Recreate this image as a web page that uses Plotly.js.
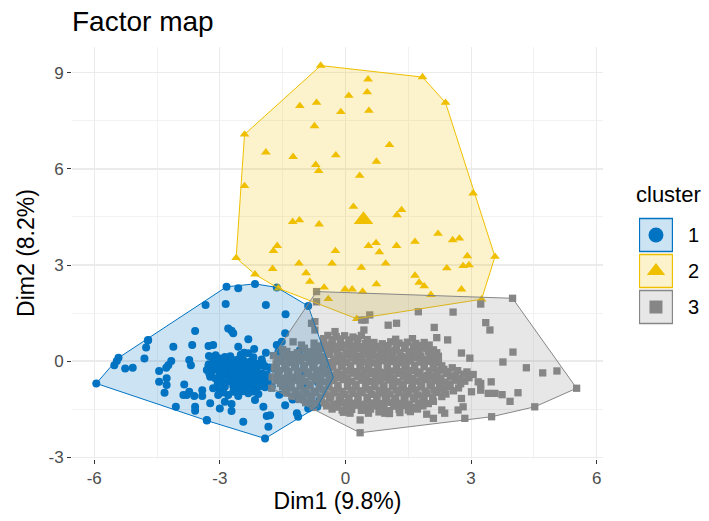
<!DOCTYPE html>
<html><head><meta charset="utf-8">
<script src="https://cdn.plot.ly/plotly-3.0.1.min.js"></script>
<style>html,body{margin:0;padding:0;background:#fff}#chart{width:709px;height:521px}</style>
</head><body><div id="chart"></div>
<script>
const chartTitle = 'Factor map';
const xTitle = 'Dim1 (9.8%)';
const yTitle = 'Dim2 (8.2%)';
const legendTitle = 'cluster';
const clusterLabels = ['1', '2', '3'];
const clusterColors = ['#0073C2', '#EFC000', '#868686'];
const clusterFills = ['rgba(0,115,194,0.2)', 'rgba(239,192,0,0.2)', 'rgba(134,134,134,0.2)'];
const clusterSymbols = ['circle', 'triangle-up', 'square'];
const xTickVals = [-6, -3, 0, 3, 6];
const yTickVals = [-3, 0, 3, 6, 9];

const cluster1Points = [
[-5.95,-0.70],[-3.34,1.75],[-3.59,0.94],[-4.72,0.64],[-4.76,0.42],[-4.11,0.45],[-3.66,0.50],[-5.42,0.10],[-5.46,0.00],[-5.52,-0.13],
[-5.26,-0.23],[-5.08,-0.21],[-4.80,0.08],[-4.16,0.00],[-4.23,-0.13],[-4.28,-0.21],[-3.73,0.03],[-3.69,-0.13],[-4.45,-0.31],[-4.27,-0.54],
[-4.45,-0.65],[-4.27,-0.75],[-4.32,-0.99],[-3.85,-0.73],[-3.87,-1.06],[-3.79,-1.06],[-3.73,-0.96],[-3.61,-1.09],[-3.42,-1.09],[-3.42,-0.91],
[-4.05,-1.43],[-3.59,-1.43],[-3.59,-1.55],[-3.31,-1.86],[-3.26,0.16],[-3.26,-0.10],[-3.26,-0.23],[-4.71,0.66],
[-2.84,2.32],[-2.56,2.27],[-2.16,2.41],[-1.64,2.30],[-2.86,1.78],[-1.90,1.75],[-0.89,1.72],[-1.43,1.46],[-2.80,1.02],[-2.68,0.87],
[-2.72,0.95],[-2.32,0.68],[-3.16,0.50],[-3.27,0.47],[-1.44,0.87],[-1.52,0.60],[-1.64,0.50],[-1.60,0.29],[-1.90,0.26],[-2.18,0.38],
[-2.56,0.45],[-3.19,0.13],[-3.00,0.08],[-2.88,0.13],[-2.32,0.24],[-2.42,0.26],
[-3.27,-0.13],[-3.16,-0.07],[-3.04,-0.02],[-2.92,-0.07],[-2.80,-0.02],[-2.68,0.03],[-2.56,0.05],[-2.44,0.03],[-2.28,-0.02],[-2.16,-0.07],
[-2.04,-0.13],[-1.92,-0.16],[-1.80,-0.20],
[-3.31,-0.28],[-3.19,-0.33],[-3.07,-0.26],[-2.95,-0.30],[-2.84,-0.23],[-2.72,-0.20],[-2.60,-0.23],[-2.48,-0.20],[-2.36,-0.26],[-2.24,-0.28],
[-2.12,-0.33],[-2.00,-0.38],[-1.88,-0.41],
[-3.23,-0.49],[-3.11,-0.54],[-2.95,-0.49],[-2.80,-0.44],[-2.64,-0.47],[-2.52,-0.49],[-2.40,-0.54],[-2.24,-0.59],[-2.08,-0.57],[-1.96,-0.59],
[-1.84,-0.65],
[-3.16,-0.85],[-3.00,-0.91],[-2.88,-0.80],[-2.68,-0.78],[-2.56,-0.85],[-2.40,-0.80],[-2.24,-0.82],[-2.12,-0.85],[-2.00,-0.78],
[-3.04,-1.06],[-2.80,-1.06],[-2.56,-1.09],[-2.32,-1.01],[-2.08,-1.03],
[-3.23,-1.32],[-2.88,-1.27],[-2.72,-1.34],[-2.16,-1.22],[-1.96,-1.43],
[-3.00,-1.48],[-2.72,-1.56],[-2.44,-1.90],[-1.88,-1.72],[-1.80,-1.69],[-1.84,-2.05],[-1.92,-2.42],[-1.44,-1.38],[-1.16,-1.63],[-1.13,-1.74],
[-0.89,-1.48],[-0.67,-1.43],[-3.31,-1.84],[-0.29,-0.51],[-1.49,-0.59],[-1.32,-0.75],[-0.97,-0.75],[-0.66,-0.66],[-0.61,-1.20],[-1.09,0.34],
[-1.20,-0.13],[-1.72,-0.23],[-1.76,-0.80],[-1.58,-1.05],[-1.26,-1.20],[-0.80,0.20],[-0.50,-0.20],[-1.02,-0.35],
[-3.10,0.18],[-2.75,0.15],[-2.50,0.20],[-2.20,0.12],[-2.00,0.05],
[-3.10,-0.15],[-2.98,-0.12],[-2.86,-0.10],[-2.74,-0.13],[-2.62,-0.09],[-2.50,-0.12],[-2.38,-0.08],[-2.22,-0.13],[-2.10,-0.10],[-1.98,-0.06],
[-3.25,-0.40],[-3.00,-0.38],[-2.88,-0.36],[-2.70,-0.40],[-2.55,-0.35],[-2.42,-0.39],[-2.30,-0.42],[-2.18,-0.44],[-2.05,-0.48],
[-3.05,-0.70],[-2.90,-0.66],[-2.75,-0.64],[-2.62,-0.68],[-2.48,-0.70],[-2.32,-0.68],[-2.16,-0.72],[-1.92,-0.82],
[-2.92,-0.98],[-2.68,-0.96],[-2.45,-0.94],[-2.20,-0.95]
];

const cluster2Points = [
[-0.59,9.23],[1.84,8.87],[2.39,8.07],[0.54,8.80],[0.52,8.40],[0.08,8.29],[-0.69,8.07],[-1.09,7.97],[-0.11,7.78],[0.56,7.82],
[-0.74,7.34],[-2.41,7.08],[-1.90,6.52],[-1.25,6.38],[-0.23,6.43],[1.05,6.75],[0.74,6.23],[-0.71,6.13],[-0.64,5.94],[0.34,5.79],
[-2.41,5.47],[3.05,5.24],[0.19,4.82],[1.34,4.72],[1.23,4.56],[-1.26,4.35],[-1.10,4.40],[-0.63,4.27],[2.21,3.98],[2.56,3.78],
[2.72,3.83],[1.66,3.73],[1.22,3.60],[0.55,3.60],[0.73,3.69],[0.81,3.40],[-0.24,3.44],[-1.63,3.60],[-1.72,3.44],[-2.61,3.22],
[3.57,3.26],[2.91,3.28],[2.95,3.00],[2.81,2.97],[2.42,2.90],[-1.11,3.05],[-0.32,3.05],[0.96,3.05],[0.38,2.92],[-1.74,2.88],
[-2.16,2.71],[-0.94,2.75],[-0.85,2.48],[1.66,2.67],[1.76,2.45],[1.88,2.34],[0.74,2.40],[-0.51,2.30],[2.77,2.24],[-0.01,2.24],
[0.16,2.24],[0.41,2.17],[-1.60,2.27],[-0.41,1.94],[0.27,1.32],[3.25,1.93],[2.04,2.07]
];

const cluster3Points = [
[-0.69,2.17],[-0.69,1.85],[-0.73,1.23],[-0.81,1.18],[-0.73,0.97],[0.58,1.44],[0.47,1.28],[0.39,1.28],[0.44,0.97],[-0.25,0.92],
[1.74,1.54],[2.57,1.53],[3.23,1.78],[3.99,1.96],[3.35,1.20],[3.45,0.97],[2.12,1.05],[2.18,0.73],[2.44,0.66],[1.02,1.12],
[1.22,1.18],[2.77,0.25],[2.97,0.09],[4.00,0.28],[3.76,-0.03],[4.32,-0.21],[4.71,-0.37],[5.05,-0.31],[5.52,-0.85],[4.12,-0.99],
[3.93,-1.26],[4.52,-1.43],[3.49,-1.74],[2.85,-1.79],[3.48,-0.65],[3.41,-1.01],[3.57,-1.01],[3.74,-1.05],[3.23,-0.70],[3.23,-0.91],
[3.05,-0.42],[3.17,-0.65],[3.01,-0.96],[2.77,-1.17],[2.81,-1.43],[2.69,-1.53],[2.30,-1.53],[2.37,-1.63],[2.10,-1.79],[1.94,-1.66],
[0.11,-1.63],[0.35,-1.84],[0.35,-2.24],[0.94,-1.63],[-1.76,-0.85],[-0.77,-1.45],[-1.25,0.60],[-1.49,0.13],[-1.32,0.03],[-1.16,0.08],
[-0.42,0.80],[-0.22,0.76],[-0.02,0.79],[0.18,0.75],[0.38,0.80],
[-0.75,0.56],[-0.52,0.60],[-0.32,0.55],[-0.12,0.59],[0.08,0.57],[0.28,0.61],[0.48,0.55],[0.68,0.58],[0.88,0.54],[1.08,0.60],
[1.28,0.56],[1.48,0.59],[1.68,0.55],[1.88,0.58],
[-1.50,0.36],[-0.98,0.40],[-0.75,0.35],[-0.52,0.39],[-0.30,0.37],[-0.10,0.41],[0.12,0.36],[0.32,0.39],[0.55,0.35],[0.75,0.40],
[0.98,0.37],[1.20,0.34],[1.42,0.39],[1.65,0.36],[1.88,0.40],[2.10,0.35],
[-1.72,0.17],[-1.28,0.20],[-1.05,0.16],[-0.82,0.19],[-0.60,0.15],[-0.38,0.21],[-0.15,0.17],[0.05,0.19],[0.28,0.15],[0.48,0.20],
[0.70,0.16],[0.92,0.21],[1.12,0.18],[1.35,0.14],[1.58,0.19],[1.80,0.16],[2.02,0.20],[2.22,0.15],
[-1.55,-0.01],[-1.30,-0.04],[-1.08,0.00],[-0.85,-0.03],[-0.62,0.01],[-0.40,-0.05],[-0.18,-0.01],[0.02,-0.04],[0.25,0.00],[0.45,-0.03],
[0.68,-0.06],[0.90,0.01],[1.12,-0.02],[1.32,-0.05],[1.55,0.00],[1.78,-0.03],[2.00,-0.01],[2.22,-0.05],
[-1.70,-0.21],[-1.45,-0.24],[-1.22,-0.19],[-1.00,-0.23],[-0.78,-0.20],[-0.55,-0.25],[-0.32,-0.21],[-0.10,-0.18],[0.12,-0.23],[0.35,-0.20],
[0.55,-0.24],[0.78,-0.19],[1.00,-0.22],[1.22,-0.25],[1.45,-0.20],[1.65,-0.23],[1.88,-0.18],[2.10,-0.22],[2.35,-0.26],[2.55,-0.21],
[-1.62,-0.40],[-1.38,-0.44],[-1.15,-0.41],[-0.92,-0.39],[-0.70,-0.43],[-0.48,-0.40],[-0.25,-0.45],[-0.05,-0.41],[0.18,-0.38],[0.40,-0.43],
[0.62,-0.40],[0.85,-0.44],[1.05,-0.41],[1.28,-0.39],[1.50,-0.43],[1.72,-0.40],[1.95,-0.45],[2.18,-0.42],[2.40,-0.39],[2.62,-0.44],[2.82,-0.41],
[-1.65,-0.61],[-1.40,-0.64],[-1.18,-0.60],[-0.95,-0.63],[-0.72,-0.59],[-0.50,-0.65],[-0.28,-0.61],[-0.05,-0.58],[0.15,-0.63],[0.38,-0.60],
[0.60,-0.64],[0.82,-0.62],[1.05,-0.59],[1.25,-0.65],[1.48,-0.61],[1.70,-0.63],[1.92,-0.58],[2.15,-0.62],[2.38,-0.66],[2.62,-0.60],[2.85,-0.63],
[-1.50,-0.80],[-1.30,-0.84],[-1.08,-0.81],[-0.85,-0.78],[-0.62,-0.83],[-0.40,-0.80],[-0.18,-0.85],[0.05,-0.81],[0.25,-0.79],[0.48,-0.84],
[0.70,-0.80],[0.90,-0.83],[1.12,-0.79],[1.35,-0.82],[1.58,-0.86],[1.80,-0.81],[2.02,-0.78],[2.25,-0.83],[2.48,-0.80],[2.70,-0.84],
[-1.40,-1.00],[-1.15,-1.04],[-0.92,-1.01],[-0.70,-0.98],[-0.48,-1.03],[-0.25,-1.00],[-0.02,-1.05],[0.18,-1.01],[0.40,-0.99],[0.62,-1.04],
[0.85,-1.00],[1.05,-1.03],[1.28,-0.99],[1.50,-1.02],[1.72,-1.06],[1.95,-1.01],[2.18,-0.98],[2.40,-1.03],
[-1.10,-1.20],[-0.85,-1.24],[-0.60,-1.21],[-0.38,-1.18],[-0.15,-1.23],[0.08,-1.20],[0.30,-1.25],[0.52,-1.21],[0.75,-1.19],[0.98,-1.24],
[1.20,-1.20],[1.42,-1.23],[1.65,-1.19],[1.88,-1.22],[2.10,-1.26],
[-0.45,-1.40],[-0.20,-1.44],[0.02,-1.41],[0.25,-1.38],[0.48,-1.43],[0.70,-1.40],[0.92,-1.45],[1.15,-1.41],[1.38,-1.39],[1.60,-1.44],[1.85,-1.40],
[-0.05,-1.60],[0.55,-1.63],[0.80,-1.59],[1.05,-1.64],[1.30,-1.61],[1.55,-1.58],
[-0.52,0.70],[-0.32,0.67],[-0.12,0.69],[0.10,0.66],[0.30,0.70],[0.52,0.67],[1.20,0.68],[1.60,0.70],
[-1.05,0.50],[-0.62,0.47],[-0.42,0.49],[-0.22,0.46],[-0.02,0.50],[0.20,0.47],[0.40,0.45],[0.62,0.49],[0.82,0.46],[1.02,0.48],
[1.22,0.45],[1.42,0.49],[1.62,0.46],[1.82,0.48],[2.00,0.50],
[-1.40,0.30],[-1.15,0.26],[-0.90,0.29],[-0.65,0.27],[-0.42,0.30],[-0.20,0.26],[0.02,0.28],[0.22,0.30],[0.42,0.26],[0.65,0.29],
[0.85,0.27],[1.08,0.30],[1.30,0.26],[1.52,0.29],[1.75,0.27],[1.98,0.30],[2.18,0.26],
[-1.62,0.07],[-1.40,0.09],[-1.18,0.06],[-0.95,0.10],[-0.72,0.07],[-0.50,0.09],[-0.28,0.05],[-0.05,0.08],[0.15,0.10],[0.38,0.06],
[0.58,0.09],[0.80,0.07],[1.02,0.10],[1.22,0.06],[1.45,0.08],[1.68,0.10],[1.90,0.06],[2.12,0.08],
[-1.65,-0.10],[-1.42,-0.13],[-1.20,-0.11],[-0.98,-0.14],[-0.75,-0.10],[-0.52,-0.12],[-0.30,-0.15],[-0.08,-0.11],[0.12,-0.13],[0.35,-0.09],
[0.55,-0.12],[0.78,-0.14],[1.00,-0.10],[1.22,-0.13],[1.42,-0.11],[1.65,-0.14],[1.88,-0.10],[2.10,-0.12],[2.30,-0.15],
[-1.58,-0.30],[-1.35,-0.33],[-1.12,-0.31],[-0.88,-0.34],[-0.65,-0.30],[-0.42,-0.32],[-0.20,-0.35],[0.02,-0.31],[0.25,-0.33],[0.45,-0.29],
[0.68,-0.32],[0.90,-0.35],[1.12,-0.31],[1.35,-0.33],[1.55,-0.30],[1.78,-0.34],[2.00,-0.31],[2.22,-0.29],[2.45,-0.33],[2.68,-0.30],[2.90,-0.34],
[-1.75,-0.50],[-1.52,-0.53],[-1.28,-0.51],[-1.05,-0.54],[-0.82,-0.50],[-0.60,-0.52],[-0.38,-0.55],[-0.15,-0.51],[0.05,-0.53],[0.28,-0.49],
[0.50,-0.52],[0.72,-0.55],[0.95,-0.51],[1.15,-0.53],[1.38,-0.50],[1.60,-0.54],[1.82,-0.51],[2.05,-0.49],[2.28,-0.53],[2.50,-0.50],[2.72,-0.54],[2.95,-0.52],
[-1.55,-0.70],[-1.30,-0.73],[-1.08,-0.71],[-0.85,-0.74],[-0.62,-0.70],[-0.40,-0.72],[-0.18,-0.75],[0.05,-0.71],[0.25,-0.73],[0.48,-0.69],
[0.70,-0.72],[0.92,-0.75],[1.15,-0.71],[1.38,-0.73],[1.60,-0.70],[1.82,-0.74],[2.05,-0.71],[2.28,-0.69],[2.50,-0.73],[2.75,-0.71],
[-1.45,-0.90],[-1.20,-0.93],[-0.98,-0.91],[-0.75,-0.94],[-0.52,-0.90],[-0.30,-0.92],[-0.08,-0.95],[0.15,-0.91],[0.35,-0.93],[0.58,-0.89],
[0.80,-0.92],[1.00,-0.95],[1.22,-0.91],[1.45,-0.93],[1.68,-0.90],[1.90,-0.94],[2.12,-0.91],[2.35,-0.89],[2.58,-0.93],
[-1.28,-1.10],[-1.02,-1.13],[-0.80,-1.11],[-0.58,-1.14],[-0.35,-1.10],[-0.12,-1.12],[0.08,-1.15],[0.30,-1.11],[0.52,-1.13],[0.75,-1.09],
[0.95,-1.12],[1.18,-1.15],[1.40,-1.11],[1.62,-1.13],[1.85,-1.10],[2.08,-1.14],[2.30,-1.11],
[-0.95,-1.30],[-0.72,-1.33],[-0.50,-1.31],[-0.28,-1.34],[-0.05,-1.30],[0.18,-1.32],[0.40,-1.35],[0.62,-1.31],[0.85,-1.33],[1.08,-1.29],
[1.30,-1.32],[1.52,-1.35],[1.75,-1.31],[1.98,-1.33],
[-0.32,-1.50],[-0.08,-1.53],[0.15,-1.51],[0.38,-1.54],[0.60,-1.50],[0.82,-1.52],[1.05,-1.55],[1.28,-1.51],[1.50,-1.53],[1.72,-1.50]
];

const clusterCenters = [[-2.55,-0.15],[0.43,4.41],[0.85,-0.45]];

const clusterPoints = [cluster1Points, cluster2Points, cluster3Points];
const pointSizes = [8, 8.5, 7.3];
const centerSizes = [13, 17, 12];
const legendSymbolSizes = [15, 16, 13];

function convexHull(pts) {
  const p = pts.slice().sort((a, b) => a[0] - b[0] || a[1] - b[1]);
  const cross = (o, a, b) => (a[0]-o[0])*(b[1]-o[1]) - (a[1]-o[1])*(b[0]-o[0]);
  const lower = [];
  for (const q of p) { while (lower.length >= 2 && cross(lower[lower.length-2], lower[lower.length-1], q) <= 0) lower.pop(); lower.push(q); }
  const upper = [];
  for (let i = p.length - 1; i >= 0; i--) { const q = p[i]; while (upper.length >= 2 && cross(upper[upper.length-2], upper[upper.length-1], q) <= 0) upper.pop(); upper.push(q); }
  upper.pop(); lower.pop();
  const h = lower.concat(upper);
  h.push(h[0]);
  return h;
}

const traces = [];
clusterPoints.forEach((pts, k) => {
  traces.push({
    type: 'scatter', mode: 'markers', x: pts.map(p => p[0]), y: pts.map(p => p[1]),
    marker: { symbol: clusterSymbols[k], size: pointSizes[k], color: clusterColors[k], line: { width: 0 } },
    showlegend: false, hoverinfo: 'skip', xaxis: 'x', yaxis: 'y'
  });
  traces.push({
    type: 'scatter', mode: 'markers', x: [clusterCenters[k][0]], y: [clusterCenters[k][1]],
    marker: { symbol: clusterSymbols[k], size: centerSizes[k], color: clusterColors[k], line: { width: 0 } },
    showlegend: false, hoverinfo: 'skip', xaxis: 'x', yaxis: 'y'
  });
});
clusterPoints.forEach((pts, k) => {
  const h = convexHull(pts);
  traces.push({
    type: 'scatter', mode: 'lines', x: h.map(p => p[0]), y: h.map(p => p[1]),
    fill: 'toself', fillcolor: clusterFills[k], line: { color: clusterColors[k], width: 1 },
    showlegend: false, hoverinfo: 'skip', xaxis: 'x', yaxis: 'y'
  });
});
// legend keys (drawn on a small inset axis, one row per cluster label)
traces.push({
  type: 'scatter', mode: 'markers', x: clusterLabels.map(() => 0), y: clusterLabels,
  marker: { symbol: 'square', size: 33, color: clusterFills, line: { color: clusterColors, width: 1.3 } },
  showlegend: false, hoverinfo: 'skip', xaxis: 'x2', yaxis: 'y2'
});
clusterLabels.forEach((lab, k) => {
  traces.push({
    type: 'scatter', mode: 'markers', x: [0], y: [lab],
    marker: { symbol: clusterSymbols[k], size: legendSymbolSizes[k], color: clusterColors[k], line: { width: 0 } },
    showlegend: false, hoverinfo: 'skip', xaxis: 'x2', yaxis: 'y2'
  });
});

const FONT = 'Liberation Sans, Arial, sans-serif';
const layout = {
  width: 709, height: 521,
  margin: { l: 72, r: 0, t: 47, b: 62 },
  paper_bgcolor: '#fff', plot_bgcolor: '#fff',
  font: { family: FONT, color: '#000' },
  showlegend: false,
  title: { text: chartTitle, x: 0, xref: 'paper', xanchor: 'left', y: 0.9597, yref: 'container', yanchor: 'middle',
           font: { family: FONT, size: 28, color: '#000' } },
  xaxis: {
    domain: [0, 0.8336], range: [-6.53, 6.15], tickvals: xTickVals, ticktext: xTickVals.map(String),
    ticks: 'outside', ticklen: 4, tickwidth: 1, tickcolor: '#333',
    showgrid: true, gridcolor: '#EBEBEB', gridwidth: 1.1, zeroline: false, showline: false,
    minor: { tickvals: [-4.5, -1.5, 1.5, 4.5], showgrid: true, gridcolor: '#EFEFEF', gridwidth: 0.8, ticks: '' },
    tickfont: { family: FONT, size: 17, color: '#4D4D4D' },
    title: { text: xTitle, font: { family: FONT, size: 23, color: '#000' }, standoff: 5 },
    anchor: 'y', fixedrange: true
  },
  yaxis: {
    domain: [0, 1], range: [-3.06, 9.81], tickvals: yTickVals, ticktext: yTickVals.map(String),
    ticks: 'outside', ticklen: 4, tickwidth: 1, tickcolor: '#333',
    showgrid: true, gridcolor: '#EBEBEB', gridwidth: 1.1, zeroline: false, showline: false,
    minor: { tickvals: [-1.5, 1.5, 4.5, 7.5], showgrid: true, gridcolor: '#EFEFEF', gridwidth: 0.8, ticks: '' },
    tickfont: { family: FONT, size: 17, color: '#4D4D4D' },
    title: { text: yTitle, font: { family: FONT, size: 23, color: '#000' }, standoff: 7 },
    anchor: 'x', fixedrange: true
  },
  xaxis2: { domain: [0.890, 0.9435], range: [-1, 1], visible: false, anchor: 'y2', fixedrange: true },
  yaxis2: {
    domain: [0.3252, 0.5874], anchor: 'x2', side: 'right', type: 'category', categoryarray: clusterLabels,
    range: [2.5, -0.5], showgrid: false, zeroline: false, showline: false,
    ticks: 'outside', ticklen: 10, tickcolor: 'rgba(0,0,0,0)',
    tickfont: { family: FONT, size: 20, color: '#000' }, fixedrange: true
  },
  annotations: [{
    text: legendTitle, xref: 'paper', yref: 'paper', x: 0.9372, y: 0.6408, xanchor: 'center', yanchor: 'middle',
    showarrow: false, font: { family: FONT, size: 22, color: '#000' }
  }]
};

Plotly.newPlot('chart', traces, layout, { displayModeBar: false, staticPlot: true });
</script>
</body></html>
